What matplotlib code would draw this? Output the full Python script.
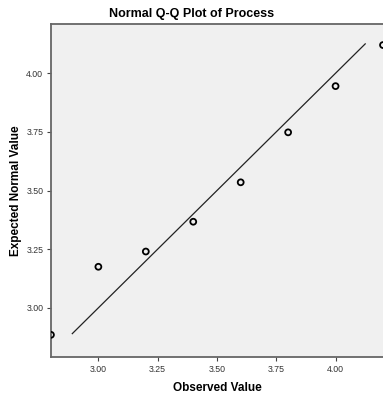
import matplotlib
matplotlib.use("Agg")
import matplotlib.pyplot as plt

# Observed values and their expected normal quantiles
observed = [2.8, 3.0, 3.2, 3.4, 3.6, 3.8, 4.0, 4.2]
expected = [2.885, 3.175, 3.24, 3.367, 3.535, 3.748, 3.945, 4.12]
# reference line (y = x)
line_x = [2.89, 4.125]
line_y = [2.89, 4.125]

x_ticks = [3.00, 3.25, 3.50, 3.75, 4.00]
y_ticks = [3.00, 3.25, 3.50, 3.75, 4.00]

plt.rcParams['font.family'] = ['Liberation Sans', 'DejaVu Sans']

fig = plt.figure(figsize=(3.83, 3.99), dpi=100)
ax = fig.add_axes([0.133, 0.105, 0.867, 0.835])
ax.set_facecolor('#f0f0f0')

ax.plot(line_x, line_y, color='#222222', linewidth=0.9)
ax.scatter(observed, expected, s=18, facecolors='none', edgecolors='black',
           linewidths=1.3, zorder=3)

ax.set_xlim(2.8, 4.2)
ax.set_ylim(2.79, 4.21)
ax.set_xticks(x_ticks)
ax.set_yticks(y_ticks)
ax.set_xticklabels([f"{v:.2f}" for v in x_ticks])
ax.set_yticklabels([f"{v:.2f}" for v in y_ticks])
ax.tick_params(axis='both', labelsize=6.3, length=3, width=0.8, color='#444444',
               labelcolor='#333333', pad=2.5)

for side in ['left', 'top', 'bottom']:
    ax.spines[side].set_color('#666666')
    ax.spines[side].set_linewidth(1.3)
ax.spines['right'].set_visible(False)

# title is centred on the whole figure, not on the axes
fig.text(0.5, 0.965, "Normal Q-Q Plot of Process", fontsize=9, fontweight='bold',
         ha='center', va='center')
ax.set_xlabel("Observed Value", fontsize=8.5, fontweight='bold', labelpad=6)
ax.set_ylabel("Expected Normal Value", fontsize=8.5, fontweight='bold', labelpad=3)

fig.savefig("out.png", dpi=100)
